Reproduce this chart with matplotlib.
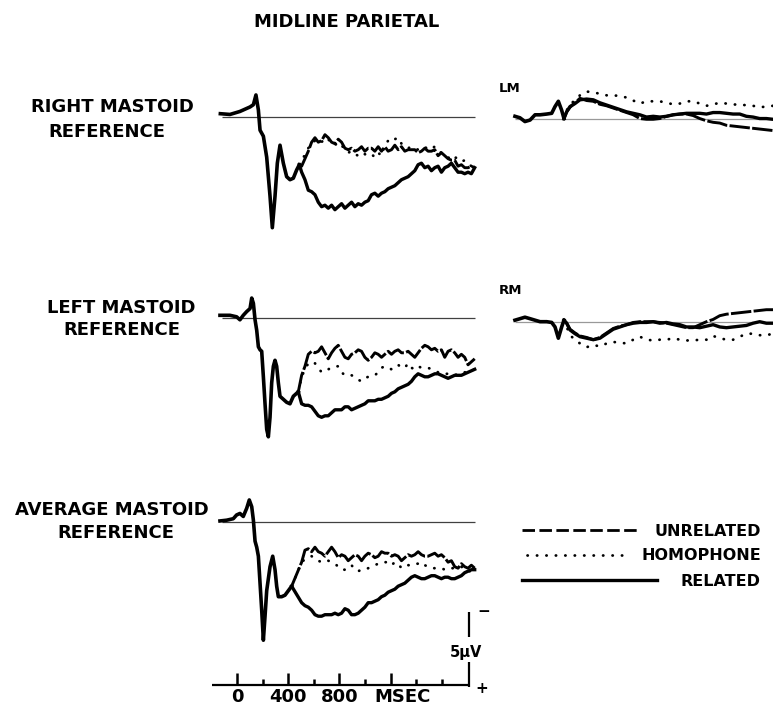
import matplotlib
matplotlib.use("Agg")
import matplotlib.pyplot as plt

plt.rcParams['font.family'] = ['DejaVu Sans']

# ---- data (ms, microvolts; positive is drawn downward) ----
# main panels: one shared onset segment, then three conditions
P1_EARLY_T = [-130, -55, 23, 102, 128, 148, 167, 180, 206, 232, 258, 276, 297, 315,
              336, 362, 388, 414, 440, 466, 487]
P1_EARLY_UV = [-0.2, -0.15, -0.35, -0.65, -0.8, -1.45, -0.45, 0.9, 1.3, 2.7, 5.3, 7.4, 5.3,
               3.1, 1.9, 3.1, 4.0, 4.2, 4.1, 3.55, 3.2]

P2_EARLY_T = [-133, -55, -3, 23, 49, 76, 102, 115, 128, 141, 154, 167, 180, 193, 206, 219,
              232, 245, 258, 271, 284, 297, 310, 323, 336, 362, 388, 414, 440, 466, 479]
P2_EARLY_UV = [-0.2, -0.2, -0.1, 0.1, -0.2, -0.45, -0.65, -1.35, -1.0, 0.1, 0.8, 1.9, 2.1,
               2.2, 3.9, 5.7, 7.4, 7.9, 6.6, 4.3, 3.2, 2.8, 3.2, 4.3, 5.2, 5.4, 5.6, 5.7,
               5.2, 5.0, 4.9]

P3_EARLY_T = [-133, -81, -29, -3, 23, 49, 76, 96, 115, 128, 141, 154, 167, 180, 193, 206,
              219, 232, 258, 279, 297, 310, 323, 349, 375, 401, 427]
P3_EARLY_UV = [-0.05, -0.1, -0.2, -0.45, -0.55, -0.35, -0.9, -1.45, -1.0, -0.1, 1.3, 1.7,
               2.3, 4.1, 5.9, 7.9, 6.3, 4.6, 3.0, 2.3, 3.2, 4.3, 5.0, 5.0, 4.9, 4.6, 4.3]

LATE_T = [505, 531, 557, 583, 609, 635, 661, 687, 713, 739, 765, 791, 817, 843, 869, 895,
          921, 947, 973, 999, 1025, 1051, 1077, 1103, 1129, 1155, 1181, 1207, 1233, 1259,
          1285, 1311, 1337, 1363, 1389, 1415, 1441, 1467, 1493, 1519, 1545, 1571, 1597,
          1623, 1649, 1675, 1701, 1727, 1753, 1779, 1805, 1831, 1857]

P1_UNRELATED = [3.3, 2.8, 2.3, 1.7, 1.4, 1.7, 1.6, 1.2, 1.4, 1.7,
                1.8, 1.5, 1.7, 2.1, 2.2, 2.1, 2.3, 2.2, 2.0, 2.3,
                2.1, 2.1, 2.3, 2.0, 2.3, 2.0, 2.3, 2.2, 1.9, 2.2,
                2.0, 2.3, 2.2, 2.2, 2.2, 2.4, 2.3, 2.1, 2.3, 2.3,
                2.2, 2.6, 2.4, 2.6, 2.8, 2.9, 2.9, 3.3, 3.2, 3.4,
                3.4, 3.3, 3.4]
P1_HOMOPHONE = [3.0, 2.5, 2.1, 1.8, 1.6, 1.8, 1.7, 1.4, 1.5, 1.8,
                1.9, 1.7, 1.9, 2.2, 2.4, 2.3, 2.5, 2.6, 2.4, 2.5,
                2.6, 2.5, 2.7, 2.4, 2.6, 1.9, 1.6, 1.7, 1.5, 1.4,
                1.8, 2.0, 2.1, 2.0, 2.1, 2.2, 2.1, 2.0, 2.2, 2.1,
                2.0, 2.3, 2.4, 2.5, 2.7, 2.9, 2.7, 2.8, 3.0, 2.9,
                3.1, 3.3, 3.2]
P1_RELATED = [3.7, 4.2, 4.9, 5.0, 5.2, 5.7, 6.0, 5.9, 6.1, 5.9,
              6.2, 6.0, 5.8, 6.1, 5.9, 5.7, 6.0, 5.8, 5.9, 5.7,
              5.6, 5.2, 5.1, 5.3, 5.1, 5.0, 4.8, 4.7, 4.6, 4.4,
              4.2, 4.1, 4.0, 3.8, 3.6, 3.2, 3.1, 3.4, 3.3, 3.6,
              3.4, 3.3, 3.7, 3.4, 3.3, 3.1, 3.4, 3.7, 3.7, 3.8,
              3.7, 3.8, 3.4]

P2_UNRELATED = [3.8, 3.2, 2.4, 2.2, 2.3, 2.2, 1.9, 2.3, 2.7, 2.3,
                2.0, 1.8, 2.2, 2.6, 2.7, 2.4, 2.3, 2.1, 2.2, 2.6,
                2.8, 2.6, 2.3, 2.4, 2.6, 2.4, 2.2, 2.4, 2.2, 2.1,
                2.3, 2.3, 2.2, 2.4, 2.6, 2.3, 2.0, 1.8, 1.9, 2.1,
                2.0, 2.2, 2.1, 2.6, 2.2, 2.1, 2.3, 2.6, 2.4, 2.6,
                3.1, 2.9, 2.7]
P2_HOMOPHONE = [3.9, 3.4, 3.0, 2.9, 3.0, 3.3, 3.6, 3.5, 3.4, 3.3,
                3.2, 3.2, 3.6, 3.8, 3.8, 3.8, 3.9, 4.1, 4.2, 4.0,
                3.9, 3.8, 3.8, 3.6, 3.3, 3.2, 3.3, 3.4, 3.3, 3.1,
                3.3, 3.3, 3.0, 3.3, 3.4, 3.2, 3.3, 3.3, 3.3, 3.4,
                3.5, 3.6, 3.6, 3.7, 3.7, 3.7, 3.8, 3.7, 3.7, 3.6,
                3.6, 3.5, 3.4]
P2_RELATED = [5.7, 5.8, 5.8, 5.9, 6.2, 6.5, 6.6, 6.5, 6.5, 6.3,
              6.1, 6.1, 6.1, 5.9, 5.9, 6.1, 6.0, 5.9, 5.8, 5.7,
              5.5, 5.5, 5.5, 5.4, 5.4, 5.3, 5.2, 5.0, 4.9, 4.7,
              4.6, 4.5, 4.4, 4.2, 3.9, 3.7, 3.8, 3.9, 3.9, 3.8,
              3.7, 3.7, 3.8, 3.9, 4.0, 3.9, 3.8, 3.8, 3.8, 3.7,
              3.6, 3.5, 3.4]

P3_UNRELATED = [2.7, 1.9, 1.8, 2.0, 1.7, 2.0, 2.1, 2.3, 2.0, 1.7,
                2.0, 2.4, 2.2, 2.3, 2.6, 2.4, 2.2, 2.3, 2.6, 2.3,
                2.1, 2.2, 2.4, 2.3, 2.0, 2.1, 2.1, 2.3, 2.2, 2.3,
                2.6, 2.4, 2.2, 2.3, 2.2, 2.0, 2.2, 2.3, 2.3, 2.2,
                2.1, 2.3, 2.2, 2.4, 2.7, 2.6, 3.0, 3.1, 2.8, 3.0,
                3.1, 2.9, 3.1]
P3_HOMOPHONE = [2.7, 2.5, 2.4, 2.3, 2.5, 2.6, 2.7, 2.6, 2.6, 2.7,
                2.8, 3.0, 3.2, 3.2, 3.0, 2.9, 3.2, 3.3, 3.2, 3.2,
                3.1, 3.0, 2.9, 2.8, 2.8, 2.7, 2.7, 2.9, 2.7, 2.8,
                3.1, 3.0, 2.9, 2.9, 2.8, 2.8, 3.0, 2.9, 3.0, 3.1,
                3.1, 3.1, 3.1, 3.2, 3.2, 3.1, 3.1, 3.1, 3.0, 3.2,
                3.3, 3.3, 3.3]
P3_RELATED = [5.4, 5.6, 5.7, 5.9, 6.2, 6.3, 6.3, 6.2, 6.2, 6.2,
              6.1, 6.2, 6.1, 5.8, 5.9, 6.2, 6.2, 6.1, 5.9, 5.7,
              5.4, 5.4, 5.3, 5.2, 5.0, 4.9, 4.7, 4.6, 4.5, 4.3,
              4.2, 4.1, 3.9, 3.7, 3.6, 3.7, 3.8, 3.8, 3.7, 3.6,
              3.6, 3.7, 3.8, 3.7, 3.7, 3.8, 3.8, 3.7, 3.6, 3.4,
              3.3, 3.2, 3.2]

# small LM / RM panels on the right
SIDE_EARLY_T = [-130, -91, -52, -12, 27, 66, 118, 157, 183, 209, 235, 253]
SIDE_LATE_T = [274, 300, 339, 378, 430, 482, 534, 586, 638, 690, 742, 794, 846, 898,
               950, 1002, 1054, 1106, 1158, 1210, 1262, 1314, 1366, 1418, 1470, 1522,
               1574, 1626, 1678, 1730, 1782, 1834, 1886]

LM_EARLY = [-0.2, -0.1, 0.15, 0.05, -0.3, -0.3, -0.35, -0.4, -0.85, -1.2, -0.6, -0.05]
LM_UNRELATED = [-0.5, -0.8, -1.1, -1.4, -1.25, -1.2, -1.0, -0.9, -0.75, -0.6,
                -0.45, -0.3, -0.05, 0.0, 0.0, -0.05, -0.2, -0.3, -0.35, -0.35,
                -0.25, -0.05, 0.1, 0.2, 0.25, 0.4, 0.45, 0.5, 0.55, 0.6,
                0.65, 0.7, 0.75]
LM_HOMOPHONE = [-0.6, -0.95, -1.3, -1.6, -1.85, -1.8, -1.7, -1.6, -1.6, -1.55,
                -1.45, -1.25, -1.05, -1.2, -1.2, -1.2, -1.1, -1.0, -1.05, -1.2,
                -1.2, -1.05, -0.9, -1.0, -1.1, -1.05, -1.0, -0.95, -0.95, -0.9,
                -0.8, -0.85, -0.9]
LM_RELATED = [-0.5, -0.85, -1.05, -1.3, -1.35, -1.3, -1.1, -0.95, -0.8, -0.65,
              -0.5, -0.4, -0.3, -0.15, -0.2, -0.15, -0.2, -0.3, -0.35, -0.4,
              -0.4, -0.4, -0.35, -0.45, -0.45, -0.4, -0.35, -0.35, -0.2, -0.15,
              -0.05, -0.05, 0.0]

RM_EARLY = [-0.1, -0.2, -0.3, -0.2, -0.1, 0.0, 0.0, 0.05, 0.35, 1.1, 0.35, -0.1]
RM_UNRELATED = [0.1, 0.5, 0.75, 0.95, 1.05, 1.2, 1.05, 0.75, 0.45, 0.3,
                0.2, 0.05, 0.0, 0.0, 0.0, 0.05, 0.1, 0.2, 0.3, 0.4,
                0.4, 0.2, 0.0, -0.15, -0.4, -0.5, -0.55, -0.6, -0.65, -0.7,
                -0.75, -0.8, -0.8]
RM_HOMOPHONE = [0.35, 0.9, 1.2, 1.45, 1.7, 1.55, 1.65, 1.45, 1.35, 1.4,
                1.45, 1.2, 1.0, 1.2, 1.25, 1.2, 1.2, 1.1, 1.2, 1.25,
                1.25, 1.2, 1.2, 0.95, 1.1, 1.2, 1.2, 1.0, 0.8, 0.8,
                0.9, 0.9, 0.8]
RM_RELATED = [0.1, 0.55, 0.8, 1.0, 1.1, 1.2, 1.1, 0.8, 0.5, 0.35,
              0.2, 0.1, 0.05, 0.05, 0.0, 0.1, 0.05, 0.15, 0.2, 0.35,
              0.35, 0.4, 0.3, 0.2, 0.35, 0.4, 0.35, 0.3, 0.25, 0.1,
              0.0, 0.1, 0.1]

ROW_LABELS = [("RIGHT MASTOID", "REFERENCE"), ("LEFT MASTOID", "REFERENCE"),
              ("AVERAGE MASTOID", "REFERENCE")]
CONDITIONS = ["UNRELATED", "HOMOPHONE", "RELATED"]
TIME_TICKS = [0, 200, 400, 600, 800, 1000, 1200, 1400, 1600]
TIME_TICK_LONG = [True, False, True, False, True, False, True, False, False]
TIME_LABELS = [(0, "0"), (400, "400"), (800, "800")]
SCALE_UV = 5

# ---- layout (figure pixels) ----
W, H = 773, 706
PX_MS = 0.128      # pixels per millisecond
PX_UV = 15.0       # pixels per microvolt

STYLE = {
    "UNRELATED": dict(color='black', lw=2.1, linestyle=(0, (7.0, 0.8))),
    "HOMOPHONE": dict(color='black', lw=2.0, linestyle=(0, (0.1, 3.3)),
                      dash_capstyle='round'),
    "RELATED": dict(color='black', lw=2.4, linestyle='-'),
}
LEGEND_STYLE = dict(STYLE, UNRELATED=dict(color='black', lw=2.0,
                                          linestyle=(0, (4.5, 1.6))))

fig = plt.figure(figsize=(W / 100, H / 100), dpi=100)
fig.patch.set_facecolor('white')


def add_panel(left, right, top, bottom, zero_x, base_y):
    ax = fig.add_axes([left / W, 1 - bottom / H, (right - left) / W, (bottom - top) / H])
    ax.set_xlim((left - zero_x) / PX_MS, (right - zero_x) / PX_MS)
    ax.set_ylim((bottom - base_y) / PX_UV, (top - base_y) / PX_UV)
    ax.axis('off')
    return ax


def label(x, y, s, size=13, ha='center'):
    fig.text(x / W, 1 - y / H, s, ha=ha, va='baseline', fontsize=size,
             fontweight='bold', color='black')


def draw_waves(ax, early_t, early_uv, late_t, waves, ref_span, ref_color):
    ax.plot(ref_span, [0, 0], color=ref_color, lw=0.9, solid_capstyle='butt')
    for name in CONDITIONS:
        ax.plot([early_t[-1]] + late_t, [early_uv[-1]] + waves[name], **STYLE[name])
    ax.plot(early_t, early_uv, color='black', lw=2.6, solid_joinstyle='round')


main_rows = [
    (116.7, P1_EARLY_T, P1_EARLY_UV, dict(UNRELATED=P1_UNRELATED, HOMOPHONE=P1_HOMOPHONE,
                                          RELATED=P1_RELATED)),
    (318.3, P2_EARLY_T, P2_EARLY_UV, dict(UNRELATED=P2_UNRELATED, HOMOPHONE=P2_HOMOPHONE,
                                          RELATED=P2_RELATED)),
    (521.7, P3_EARLY_T, P3_EARLY_UV, dict(UNRELATED=P3_UNRELATED, HOMOPHONE=P3_HOMOPHONE,
                                          RELATED=P3_RELATED)),
]
for base, et, ev, waves in main_rows:
    ax = add_panel(200, 490, base - 45, base + 135, 237, base)
    draw_waves(ax, et, ev, LATE_T, waves, [-117, 1859], '0.25')

side_rows = [
    (119.3, LM_EARLY, dict(UNRELATED=LM_UNRELATED, HOMOPHONE=LM_HOMOPHONE, RELATED=LM_RELATED)),
    (321.7, RM_EARLY, dict(UNRELATED=RM_UNRELATED, HOMOPHONE=RM_HOMOPHONE, RELATED=RM_RELATED)),
]
for base, ev, waves in side_rows:
    ax = add_panel(500, 773, base - 45, base + 60, 531.6, base)
    draw_waves(ax, SIDE_EARLY_T, ev, SIDE_LATE_T, waves, [-130, 1900], '0.6')

# time axis with 5 uV scale bar
tax = add_panel(200, 500, 600, 706, 237, 684.5)
tax.plot([-195, 1810], [0, 0], color='black', lw=1.6, solid_capstyle='butt')
for t, long in zip(TIME_TICKS, TIME_TICK_LONG):
    tax.plot([t, t], [0, -0.8 if long else -0.4], color='black', lw=1.8,
             solid_capstyle='butt')
bar_t = 1810
tax.plot([bar_t, bar_t], [0.15, -1.5], color='black', lw=1.6, solid_capstyle='butt')
tax.plot([bar_t, bar_t], [-3.2, -SCALE_UV + 0.15], color='black', lw=1.6,
         solid_capstyle='butt')

for t, s in TIME_LABELS:
    label(237 + t * PX_MS, 702.5, s)
label(402.5, 702.5, "MSEC")
label(466, 657, "5\u03bcV", size=10.5)
label(484, 616, "\u2212", size=11)
label(482, 693, "+", size=11)

# titles and row labels
label(347, 26.7, "MIDLINE PARIETAL")
row_text_pos = [((112, 111.7), (107, 136.7)), ((121, 313.3), (122, 335)),
                ((112, 515), (116, 538.3))]
for (l1, l2), ((x1, y1), (x2, y2)) in zip(ROW_LABELS, row_text_pos):
    label(x1, y1, l1)
    label(x2, y2, l2)
label(499, 92, "LM", size=9.5, ha='left')
label(499, 294, "RM", size=9.5, ha='left')

# legend
leg = fig.add_axes([515 / W, 1 - 595 / H, (773 - 515) / W, 80 / H])
leg.set_xlim(515, 773)
leg.set_ylim(595, 515)
leg.axis('off')
legend_rows = [("UNRELATED", 522, 638, 530), ("HOMOPHONE", 527, 628, 555),
               ("RELATED", 522, 657, 580)]
for name, x0, x1, y in legend_rows:
    leg.plot([x0, x1], [y, y], **LEGEND_STYLE[name])
    label(761, y + 5.5, name, size=11.5, ha='right')

fig.savefig("out.png", dpi=100, facecolor='white')
